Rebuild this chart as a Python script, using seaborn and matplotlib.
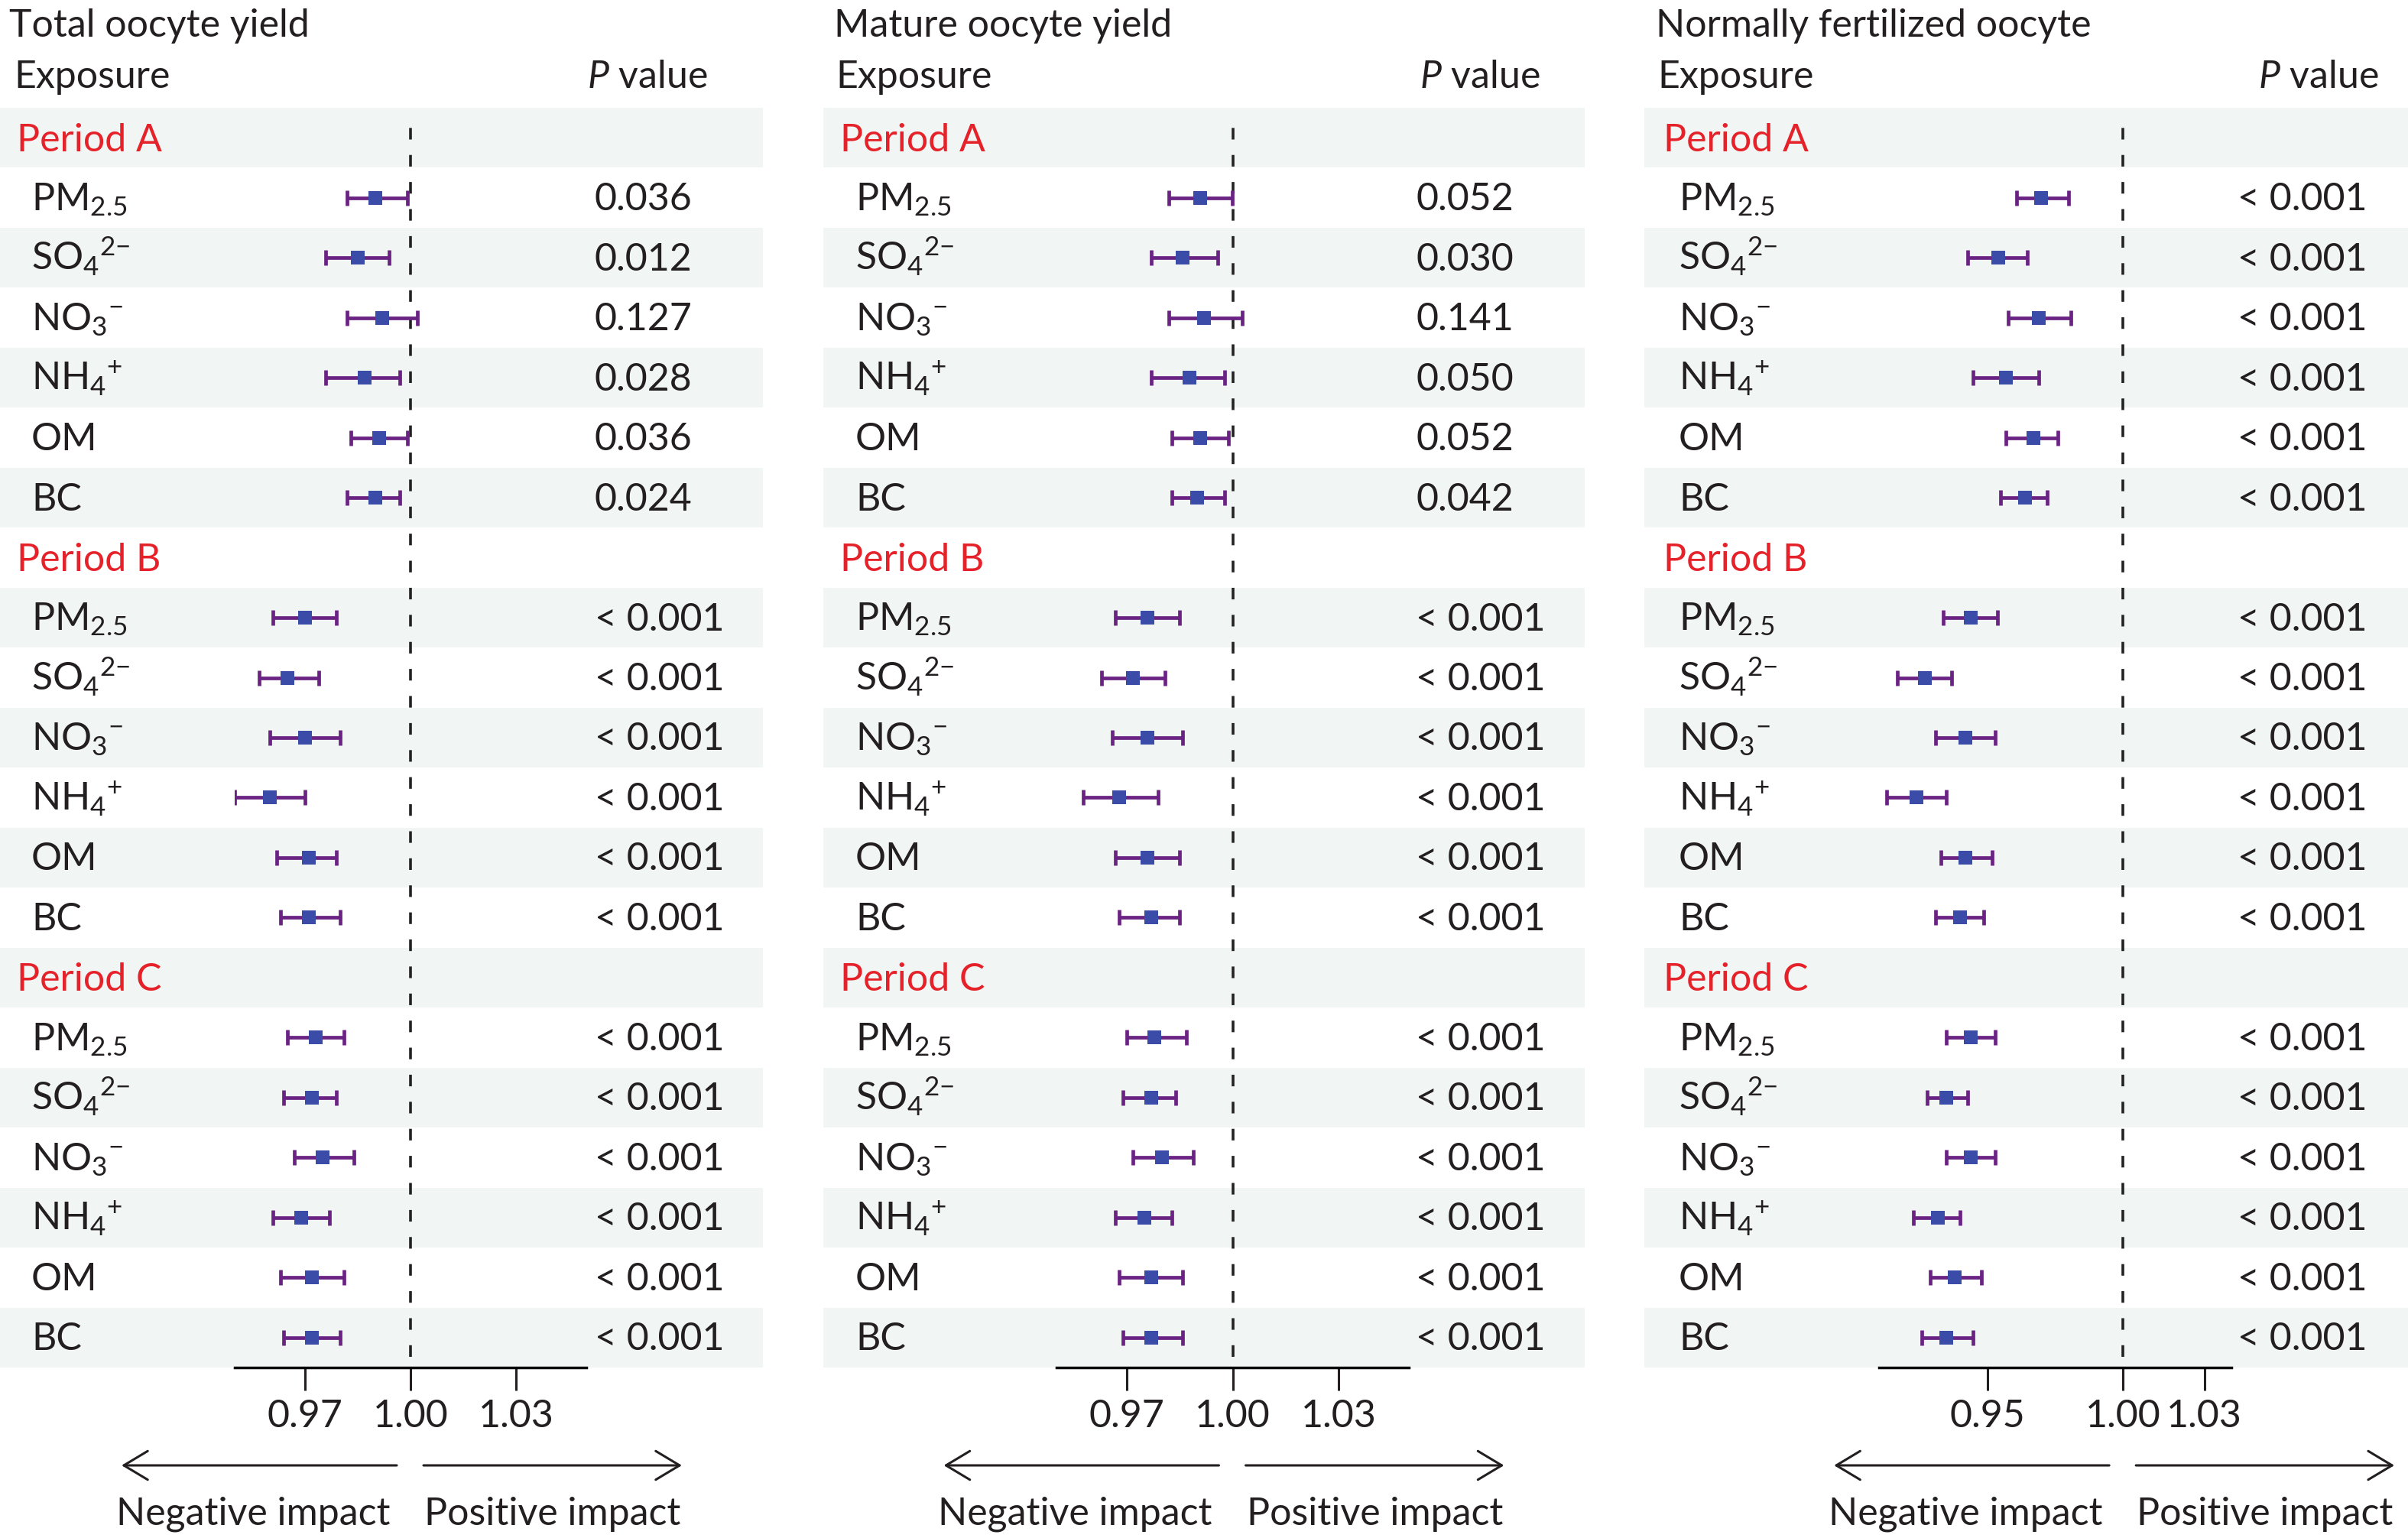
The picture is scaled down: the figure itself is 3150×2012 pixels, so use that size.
import numpy as np
import pandas as pd
import matplotlib
matplotlib.use('Agg')
import matplotlib.pyplot as plt
import matplotlib.transforms as mtransforms
import seaborn as sns

# ---- data ----
periods = ['Period A', 'Period B', 'Period C']
exposures = ['PM2.5', 'SO4', 'NO3', 'NH4', 'OM', 'BC']
exposure_labels = ['PM$_{2.5}$', 'SO$_4{}^{2{-}}$', 'NO$_3{}^{-}$', 'NH$_4{}^{+}$', 'OM', 'BC']

outcomes = ['Total oocyte yield', 'Mature oocyte yield', 'Normally fertilized oocyte']

total_est = [0.9901, 0.9851, 0.9920, 0.9870, 0.9910, 0.9901,
             0.9701, 0.9651, 0.9701, 0.9600, 0.9710, 0.9710,
             0.9730, 0.9720, 0.9750, 0.9690, 0.9720, 0.9720]
total_lo = [0.9820, 0.9759, 0.9820, 0.9759, 0.9830, 0.9820,
            0.9609, 0.9570, 0.9600, 0.9500, 0.9620, 0.9630,
            0.9651, 0.9640, 0.9670, 0.9609, 0.9630, 0.9640]
total_hi = [0.9991, 0.9940, 1.0020, 0.9970, 0.9991, 0.9970,
            0.9790, 0.9740, 0.9800, 0.9700, 0.9790, 0.9800,
            0.9811, 0.9790, 0.9839, 0.9770, 0.9811, 0.9800]
total_p = ['0.036', '0.012', '0.127', '0.028', '0.036', '0.024'] + ['< 0.001'] * 12

mature_est = [0.9908, 0.9858, 0.9918, 0.9878, 0.9908, 0.9899,
              0.9759, 0.9718, 0.9759, 0.9678, 0.9759, 0.9769,
              0.9778, 0.9769, 0.9799, 0.9749, 0.9769, 0.9769]
mature_lo = [0.9819, 0.9769, 0.9819, 0.9769, 0.9827, 0.9827,
             0.9668, 0.9627, 0.9658, 0.9577, 0.9668, 0.9678,
             0.9699, 0.9688, 0.9718, 0.9668, 0.9678, 0.9688]
mature_hi = [0.9999, 0.9958, 1.0028, 0.9978, 0.9988, 0.9978,
             0.9849, 0.9807, 0.9858, 0.9788, 0.9849, 0.9849,
             0.9868, 0.9838, 0.9888, 0.9828, 0.9858, 0.9858]
mature_p = ['0.052', '0.030', '0.141', '0.050', '0.052', '0.042'] + ['< 0.001'] * 12

fert_est = [0.9699, 0.9539, 0.9689, 0.9569, 0.9669, 0.9639,
            0.9439, 0.9268, 0.9419, 0.9238, 0.9419, 0.9398,
            0.9439, 0.9348, 0.9439, 0.9318, 0.9378, 0.9348]
fert_lo = [0.9609, 0.9427, 0.9577, 0.9447, 0.9569, 0.9549,
           0.9337, 0.9167, 0.9309, 0.9127, 0.9328, 0.9309,
           0.9348, 0.9277, 0.9348, 0.9226, 0.9289, 0.9258]
fert_hi = [0.9798, 0.9648, 0.9809, 0.9688, 0.9759, 0.9719,
           0.9538, 0.9368, 0.9529, 0.9348, 0.9518, 0.9487,
           0.9529, 0.9427, 0.9529, 0.9399, 0.9478, 0.9447]
fert_p = ['< 0.001'] * 18

xlims = [(0.95, 1.05), (0.95, 1.05), (0.91, 1.04)]
xticks = [[0.97, 1.00, 1.03], [0.97, 1.00, 1.03], [0.95, 1.00, 1.03]]

# ---- style ----
sns.set_theme(style='white')
plt.rcParams['font.family'] = ['Lato', 'DejaVu Sans']
plt.rcParams['mathtext.fontset'] = 'custom'
plt.rcParams['mathtext.rm'] = 'Lato'
plt.rcParams['mathtext.it'] = 'Lato:italic'
plt.rcParams['mathtext.default'] = 'regular'

TEXT = '#231f20'
RED = '#e52229'
PURPLE = '#6a2383'
BLUE = '#3a4ca8'
BAND = '#f1f5f4'
FS = 36

W, H = 3150, 2012
TOP, BOTTOM = 141, 1789
N_ROWS = 21
ROW_H = (BOTTOM - TOP) / N_ROWS

# panel geometry in pixels
layout = [
    dict(left=0, right=998, ax0=307, ax1=767, title_x=12, exp_x=18, per_x=22, lab_x=41, p_x=778, phead=926),
    dict(left=1077, right=2073, ax0=1382, ax1=1843, title_x=14, exp_x=16, per_x=22, lab_x=42, p_x=775, phead=938),
    dict(left=2151, right=3150, ax0=2458, ax1=2919, title_x=15, exp_x=17, per_x=25, lab_x=45, p_x=776, phead=961),
]


def build_frame(est, lo, hi, pv):
    rows = []
    k = 0
    for pi, per in enumerate(periods):
        for ei, exp in enumerate(exposures):
            rows.append(dict(period=per, exposure=exp, label=exposure_labels[ei],
                             row=pi * 7 + 1 + ei, est=est[k], lo=lo[k], hi=hi[k], p=pv[k]))
            k += 1
    return pd.DataFrame(rows)


frames = [build_frame(total_est, total_lo, total_hi, total_p),
          build_frame(mature_est, mature_lo, mature_hi, mature_p),
          build_frame(fert_est, fert_lo, fert_hi, fert_p)]


def rect(x0, x1):
    return [x0 / W, (H - BOTTOM) / H, (x1 - x0) / W, (BOTTOM - TOP) / H]


fig = plt.figure(figsize=(W / 100, H / 100), dpi=100)
fig.patch.set_facecolor('white')

for i, (df, lay) in enumerate(zip(frames, layout)):
    # table axes: bands and text
    tab = fig.add_axes(rect(lay['left'], lay['right']))
    tab.set_xlim(0, lay['right'] - lay['left'])
    tab.set_ylim(N_ROWS - 0.5, -0.5)
    tab.axis('off')
    for r in range(0, N_ROWS, 2):
        tab.axhspan(r - 0.5, r + 0.5, color=BAND, lw=0, zorder=0)

    tab.text(lay['title_x'], -0.5 - (TOP - 48) / ROW_H, outcomes[i], fontsize=FS,
             color=TEXT, va='baseline', ha='left', clip_on=False)
    tab.text(lay['exp_x'], -0.5 - (TOP - 115) / ROW_H, 'Exposure', fontsize=FS,
             color=TEXT, va='baseline', ha='left', clip_on=False)
    tab.text(lay['phead'], -0.5 - (TOP - 115) / ROW_H, r'$\mathit{P}$ value', fontsize=FS,
             color=TEXT, va='baseline', ha='right', clip_on=False)

    for pi, per in enumerate(periods):
        tab.text(lay['per_x'], pi * 7 + 0.22, per, fontsize=FS, color=RED,
                 va='baseline', ha='left')
    for _, rw in df.iterrows():
        tab.text(lay['lab_x'], rw['row'] + 0.21, rw['label'], fontsize=FS, color=TEXT,
                 va='baseline', ha='left')
        tab.text(lay['p_x'], rw['row'] + 0.21, rw['p'], fontsize=FS, color=TEXT,
                 va='baseline', ha='left')

    # forest axes
    ax = fig.add_axes(rect(lay['ax0'], lay['ax1']))
    ax.set_facecolor('none')
    ax.errorbar(df['est'], df['row'], xerr=[df['est'] - df['lo'], df['hi'] - df['est']],
                fmt='none', ecolor=PURPLE, elinewidth=3.4, capsize=7, capthick=3.4, zorder=2)
    sns.scatterplot(data=df, x='est', y='row', marker='s', s=165, color=BLUE,
                    linewidth=0, ax=ax, zorder=3, legend=False)
    ax.axvline(1.0, ymin=0.0085, ymax=0.9945, color='#222222', lw=2.6,
               ls=(0, (4.2, 5.6)), zorder=1)
    ax.set_xlim(*xlims[i])
    ax.set_ylim(N_ROWS - 0.5, -0.5)
    ax.set_xticks(xticks[i])
    ax.set_xticklabels([f'{t:.2f}' for t in xticks[i]])
    ax.set_yticks([])
    ax.set_xlabel('')
    ax.set_ylabel('')
    for s in ['left', 'top', 'right']:
        ax.spines[s].set_visible(False)
    ax.spines['bottom'].set_linewidth(2.5)
    ax.spines['bottom'].set_color('black')
    ax.tick_params(axis='x', direction='out', length=21.6, width=2.2, pad=8,
                   labelsize=FS, colors=TEXT, bottom=True)

    # impact arrows below the axis
    base = mtransforms.blended_transform_factory(ax.transData, ax.transAxes)

    def off(dx, dy):
        return mtransforms.offset_copy(base, fig=fig, x=dx, y=dy, units='dots')

    aprops = dict(arrowstyle='->,head_length=0.5,head_width=0.3', lw=2.2, color=TEXT,
                  mutation_scale=45, shrinkA=0, shrinkB=0)
    ax.annotate('', xy=(1.0, 0), xycoords=off(-378, -128), xytext=(1.0, 0),
                textcoords=off(-18, -128), arrowprops=aprops, annotation_clip=False)
    ax.annotate('', xy=(1.0, 0), xycoords=off(355, -128), xytext=(1.0, 0),
                textcoords=off(17, -128), arrowprops=aprops, annotation_clip=False)
    ax.text(1.0, 0, 'Negative impact', transform=off(-206, -206), fontsize=FS,
            color=TEXT, ha='center', va='baseline', clip_on=False)
    ax.text(1.0, 0, 'Positive impact', transform=off(186, -206), fontsize=FS,
            color=TEXT, ha='center', va='baseline', clip_on=False)

fig.savefig('out.png', dpi=100, facecolor='white')
